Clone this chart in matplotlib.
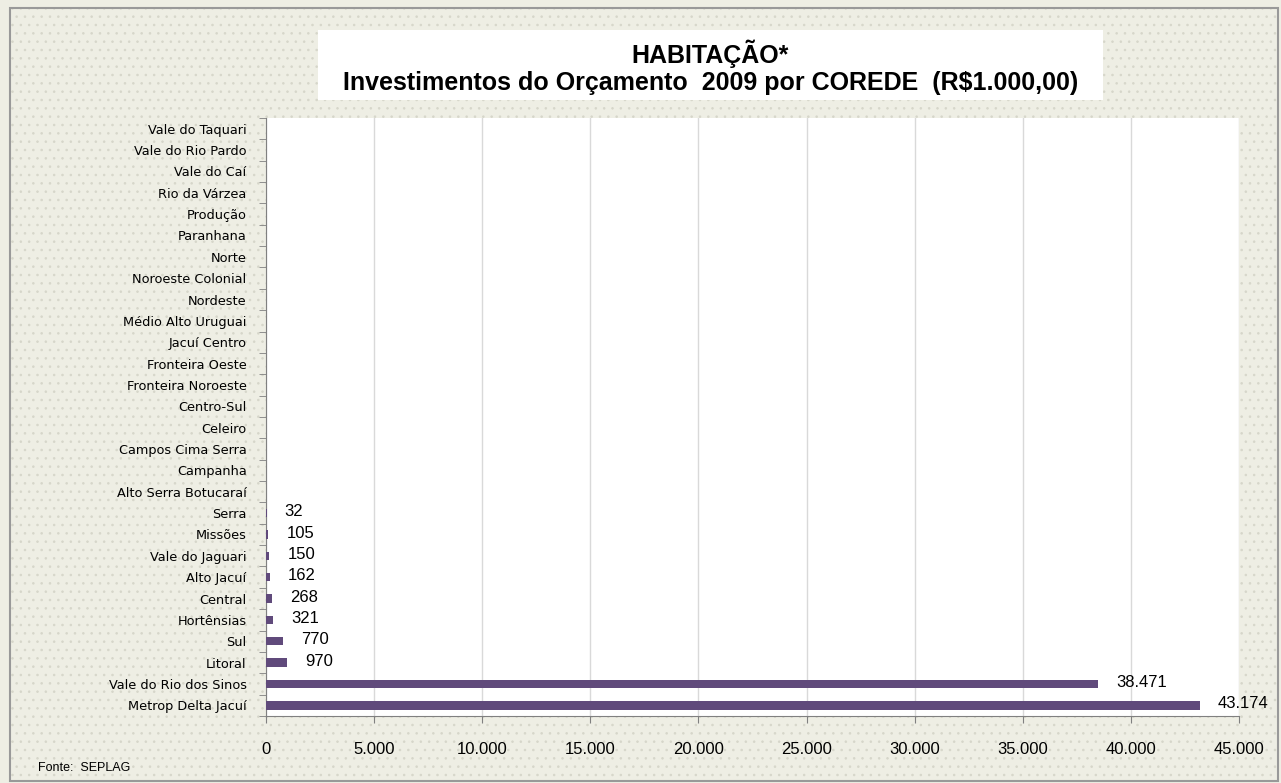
import matplotlib.pyplot as plt
from matplotlib.patches import Rectangle
from matplotlib.ticker import FuncFormatter, FixedLocator

plt.rcParams['font.family'] = ['Liberation Sans', 'DejaVu Sans']
plt.rcParams['hatch.linewidth'] = 0.6

# bottom to top
coredes = ["Metrop Delta Jacuí", "Vale do Rio dos Sinos", "Litoral", "Sul", "Hortênsias",
           "Central", "Alto Jacuí", "Vale do Jaguari", "Missões", "Serra",
           "Alto Serra Botucaraí", "Campanha", "Campos Cima Serra", "Celeiro", "Centro-Sul",
           "Fronteira Noroeste", "Fronteira Oeste", "Jacuí Centro", "Médio Alto Uruguai",
           "Nordeste", "Noroeste Colonial", "Norte", "Paranhana", "Produção",
           "Rio da Várzea", "Vale do Caí", "Vale do Rio Pardo", "Vale do Taquari"]
valores = [43174, 38471, 970, 770, 321, 268, 162, 150, 105, 32] + [0] * 18

bg = "#EEEEE4"
bar_color = "#604A7B"


def milhar(v, pos=None):
    return f"{int(v):,}".replace(",", ".")


fig = plt.figure(figsize=(12.81, 7.83), dpi=100, facecolor=bg)
fig.patches.append(Rectangle((0.008, 0.003), 0.99, 0.987, transform=fig.transFigure,
                             facecolor=bg, edgecolor="#D6D6CA", hatch="..", lw=0, zorder=-5))
fig.patches.append(Rectangle((0.008, 0.003), 0.99, 0.987, transform=fig.transFigure,
                             facecolor="none", edgecolor="#999999", lw=1.5, zorder=-4))
# caixa branca do titulo
fig.patches.append(Rectangle((0.2482, 0.8723), 0.6128, 0.0894, transform=fig.transFigure,
                             facecolor="white", edgecolor="none", zorder=-3))

ax = fig.add_axes([0.2077, 0.0856, 0.7595, 0.7637])
ax.set_facecolor("white")
ypos = list(range(len(coredes)))
ax.barh(ypos, valores, height=0.4, color=bar_color, zorder=3)
ax.set_xlim(0, 45000)
ax.set_ylim(-0.5, len(coredes) - 0.5)
ax.set_xticks(range(0, 45001, 5000))
ax.xaxis.set_major_formatter(FuncFormatter(milhar))
ax.set_yticks(ypos)
ax.set_yticklabels(coredes, family="DejaVu Sans")
ax.yaxis.set_minor_locator(FixedLocator([i - 0.5 for i in range(len(coredes) + 1)]))
ax.tick_params(axis="y", which="major", length=0, pad=14, labelsize=9.3)
ax.tick_params(axis="y", which="minor", length=5, color="#808080", direction="out")
ax.tick_params(axis="x", length=5, color="#808080", pad=14, labelsize=12)
ax.grid(axis="x", color="#D9D9D9", lw=1, zorder=0)
for s in ["top", "right"]:
    ax.spines[s].set_visible(False)
for s in ["left", "bottom"]:
    ax.spines[s].set_color("#808080")

for y, v in zip(ypos, valores):
    if v > 0:
        ax.annotate(milhar(v), (v, y), xytext=(13, 1), textcoords="offset points",
                    va="center", ha="left", fontsize=12)

fig.text(0.5546, 0.914, "HABITAÇÃO*\nInvestimentos do Orçamento  2009 por COREDE  (R$1.000,00)",
         ha="center", va="center", fontsize=18, fontweight="bold", linespacing=1.2)
fig.text(0.03, 0.015, "Fonte:  SEPLAG", fontsize=9)

fig.savefig("out.png", dpi=100, facecolor=bg)
